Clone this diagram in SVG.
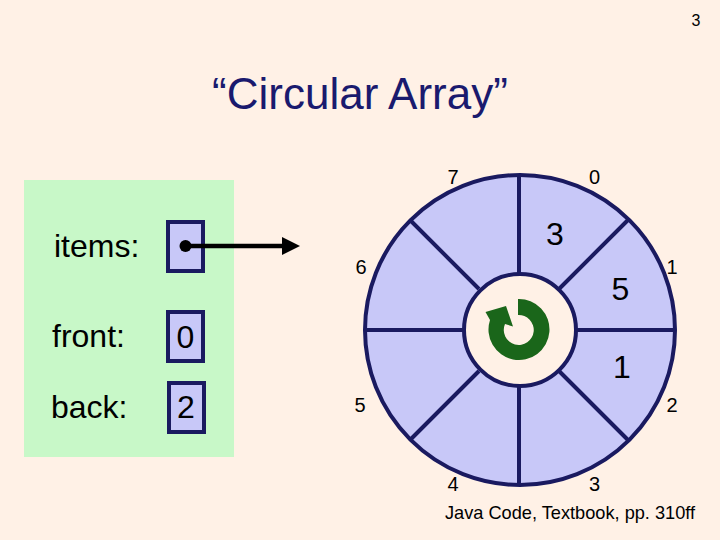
<svg xmlns="http://www.w3.org/2000/svg" width="720" height="540" viewBox="0 0 720 540">
<style>
text{font-family:"Liberation Sans",Arial,sans-serif;fill:#000}
.box{fill:#c8c8f8;stroke:#1a1a60;stroke-width:4}
.spoke{stroke:#1a1a60;stroke-width:4;fill:none}
.lbl{font-size:32px}
.idx{font-size:20px;text-anchor:middle}
.val{font-size:32px;text-anchor:middle}
</style>
<rect width="720" height="540" fill="#fff1e6"/>
<text x="696" y="26" font-size="16" text-anchor="middle">3</text>
<text x="360" y="109" font-size="44" text-anchor="middle" style="fill:#1a1a6e">“Circular Array”</text>
<rect x="24" y="180" width="210" height="277" fill="#c8f8c8"/>
<g id="items"><text class="lbl" x="54" y="257">items:</text><rect class="box" x="168" y="222" width="35" height="49"/></g>
<g id="front"><text class="lbl" x="52" y="347">front:</text><rect class="box" x="168" y="312" width="35" height="49"/><text class="val" x="185.500" y="348">0</text></g>
<g id="back"><text class="lbl" x="51" y="418">back:</text><rect class="box" x="169" y="383" width="35" height="49"/><text class="val" x="186" y="418">2</text></g>
<g id="ring">
<circle cx="520" cy="330" r="155" fill="#c8c8f8" stroke="#1a1a60" stroke-width="4"/>
<circle cx="520" cy="330" r="56" fill="#fff1e6" stroke="#1a1a60" stroke-width="4"/>
<path class="spoke" d="M519 174V274M519 386V486M364 330H464M576 330H676M410 220L479 289M628 220L559 289M410 440L479 371M628 440L559 371"/>
<path id="cycle" fill="#1a661a" d="M518 299A30.500 30.500 0 1 1 490 320L485.500 312L506 306L513 326.500L505 324A15 15 0 1 0 518 315Z"/>
</g>
<g id="slot-labels">
<text class="idx" x="453" y="184">7</text><text class="idx" x="594.500" y="184">0</text>
<text class="idx" x="361" y="274">6</text><text class="idx" x="672" y="274">1</text>
<text class="idx" x="360" y="412">5</text><text class="idx" x="672" y="412">2</text>
<text class="idx" x="453" y="491">4</text><text class="idx" x="594.500" y="491">3</text>
</g>
<g id="slot-values">
<text class="val" x="555" y="245">3</text><text class="val" x="620.500" y="300">5</text><text class="val" x="622" y="378">1</text>
</g>
<g id="connectors">
<circle cx="185.500" cy="246" r="6" fill="#000"/>
<path d="M185.500 246H285" stroke="#000" stroke-width="4.500" fill="none"/>
<path d="M282 237L300 246L282 255Z" fill="#000"/>
</g>
<text x="445" y="519" font-size="18.200">Java Code, Textbook, pp. 310ff</text>
</svg>
